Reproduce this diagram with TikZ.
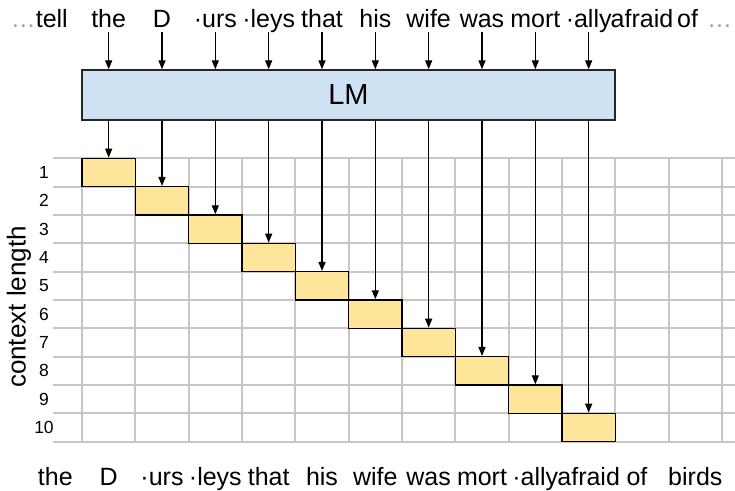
\documentclass[tikz,border=0pt]{standalone}
\usepackage{fontspec}
\setmainfont{Liberation Sans}
\usetikzlibrary{arrows.meta}
\definecolor{lmblue}{HTML}{CFE2F3}
\definecolor{yel}{HTML}{FFE599}
\definecolor{gridgray}{HTML}{C6C6C6}
\definecolor{dotgray}{HTML}{A0A0A0}
\begin{document}
\begin{tikzpicture}[x=1pt,y=-1pt,
  gridline/.style={draw=gridgray,line width=1.8pt},
  ybox/.style={draw=black,fill=yel,line width=1.4pt,minimum width=53.33pt,minimum height=28.33pt,inner sep=0pt},
  lmbox/.style={draw=black!85,fill=lmblue,line width=1.4pt,minimum width=533pt,minimum height=50pt,inner sep=0pt,font=\fontsize{29}{34}\selectfont},
  tok/.style={anchor=base,inner sep=0pt,font=\fontsize{25}{30}\selectfont},
  rowlab/.style={inner sep=0pt,font=\fontsize{17.5}{21}\selectfont},
  arr/.style={line width=1.3pt,-{Triangle[length=9pt,width=7pt]}}]
\useasboundingbox (0,0) rectangle (735,490);
% grid
\foreach \k in {0,...,10}
  \draw[gridline] (53,{158.33+28.333*\k}) -- (735,{158.33+28.333*\k});
\foreach \j in {0,...,12}
  \draw[gridline] ({82+53.333*\j},158.33) -- ({82+53.333*\j},441.67);
% yellow boxes
\foreach \j in {0,...,9}
  \node[ybox] (y\j) at ({108.67+53.333*\j},{172.5+28.333*\j}) {};
% LM box
\node[lmbox] (lm) at (348.5,95) {LM};
% top tokens
\node[tok,anchor=base east] (tell) at (68,27) {\textcolor{dotgray}{…}tell};
\foreach \w [count=\i from 0] in {the,D,·urs,·leys,that,his,wife,was,mort,·ally,afraid}
  \node[tok] (t\i) at ({108.67+53.333*\i},27) {\w};
\node[tok,anchor=base west] (tof) at (677,27) {of};
\node[tok,anchor=base west,text=dotgray] (tdots) at (707,27) {…};
% top arrows
\foreach \i in {0,...,9} {
  \coordinate (a\i) at ({108.67+53.333*\i},32);
  \draw[arr] (a\i) -- (a\i |- lm.north);
}
% bottom arrows
\foreach \j in {0,...,9}
  \draw[arr] (lm.south -| y\j.north) -- (y\j.north);
% row labels
\foreach \k in {1,...,10}
  \node[rowlab] (r\k) at (44,{172.5+28.333*(\k-1)}) {\k};
\node[rotate=90,inner sep=0pt,font=\fontsize{26}{30}\selectfont] (ctx) at (19,307) {context length};
% bottom tokens
\foreach \w/\x [count=\i from 0] in {the/55.33,D/108.67,·urs/162,·leys/215.33,that/268.67,his/322,wife/375.33,was/428.67,mort/482,·ally/535.33,afraid/588.67,of/637,birds/695.33}
  \node[tok] (b\i) at (\x,485) {\w};
\end{tikzpicture}
\end{document}
